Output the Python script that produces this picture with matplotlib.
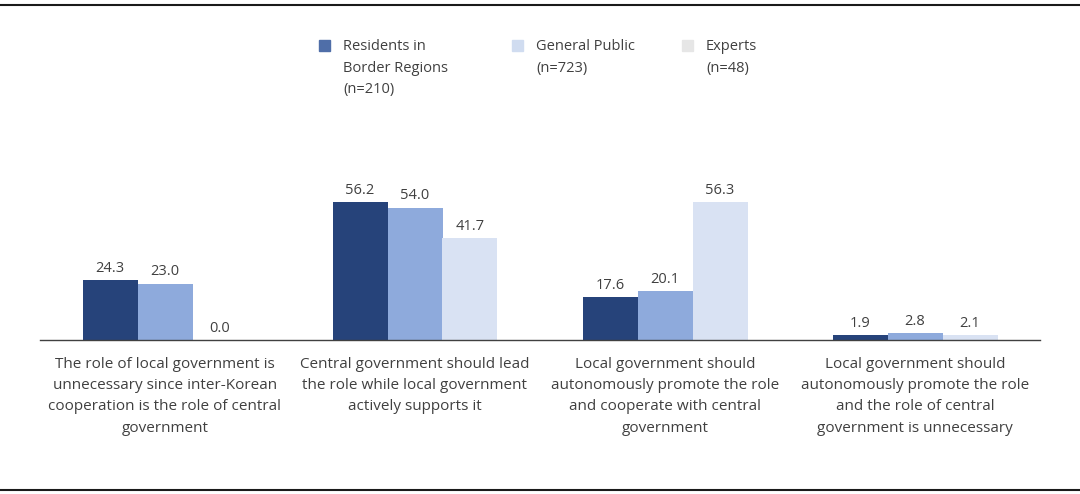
import matplotlib.pyplot as plt
from matplotlib.lines import Line2D
from matplotlib.patches import Rectangle
import numpy as np

plt.rcParams['font.family'] = ['Open Sans', 'DejaVu Sans']

# categories and values (%)
categories = [
    "The role of local government is\nunnecessary since inter-Korean\ncooperation is the role of central\ngovernment",
    "Central government should lead\nthe role while local government\nactively supports it",
    "Local government should\nautonomously promote the role\nand cooperate with central\ngovernment",
    "Local government should\nautonomously promote the role\nand the role of central\ngovernment is unnecessary",
]
residents = [24.3, 56.2, 17.6, 1.9]
general_public = [23.0, 54.0, 20.1, 2.8]
experts = [0.0, 41.7, 56.3, 2.1]

series_names = ["Residents in\nBorder Regions\n(n=210)", "General Public\n(n=723)", "Experts\n(n=48)"]
bar_colors = ["#26437a", "#8eaadc", "#d9e2f3"]
legend_colors = ["#4f6ea8", "#d0dcf0", "#e6e6e6"]
text_color = "#404040"

fig = plt.figure(figsize=(10.8, 4.94), dpi=100)
ax = fig.add_axes([40 / 1080, 1 - 340 / 494, 1000 / 1080, 200 / 494])

x = np.arange(len(categories))
w = 0.22
for i, vals in enumerate([residents, general_public, experts]):
    pos = x + (i - 1) * w
    ax.bar(pos, vals, width=w, color=bar_colors[i], zorder=2)
    for px, v in zip(pos, vals):
        ax.annotate(f"{v:.1f}", (px, v), xytext=(0, 3), textcoords="offset points",
                    ha="center", va="bottom", fontsize=10.5, color=text_color)

ax.set_xlim(-0.5, 3.5)
ax.set_ylim(0, 81.6)
ax.set_yticks([])
ax.set_xticks(x)
ax.set_xticklabels(categories, fontsize=11, color=text_color, linespacing=1.55, va="top")
ax.tick_params(axis="x", length=0, pad=12.5)
for s in ["top", "right", "left"]:
    ax.spines[s].set_visible(False)
ax.spines["bottom"].set_color("#404040")
ax.spines["bottom"].set_linewidth(1.0)

# legend drawn by hand
leg_x = [325, 518, 688]
for lx, name, c in zip(leg_x, series_names, legend_colors):
    fig.patches.append(Rectangle(((lx - 6) / 1080, 1 - 51 / 494), 11 / 1080, 11 / 494,
                                 transform=fig.transFigure, color=c, figure=fig))
    fig.text((lx + 18) / 1080, 1 - 39 / 494, name, fontsize=10.5, color=text_color,
             va="top", ha="left", linespacing=1.6)

# top and bottom rules
fig.add_artist(Line2D([0, 1], [1 - 5 / 494, 1 - 5 / 494], color="#1a1a1a", lw=1.5))
fig.add_artist(Line2D([0, 1], [1 - 490 / 494, 1 - 490 / 494], color="#1a1a1a", lw=1.5))

fig.savefig("out.png", dpi=100, facecolor="white")
